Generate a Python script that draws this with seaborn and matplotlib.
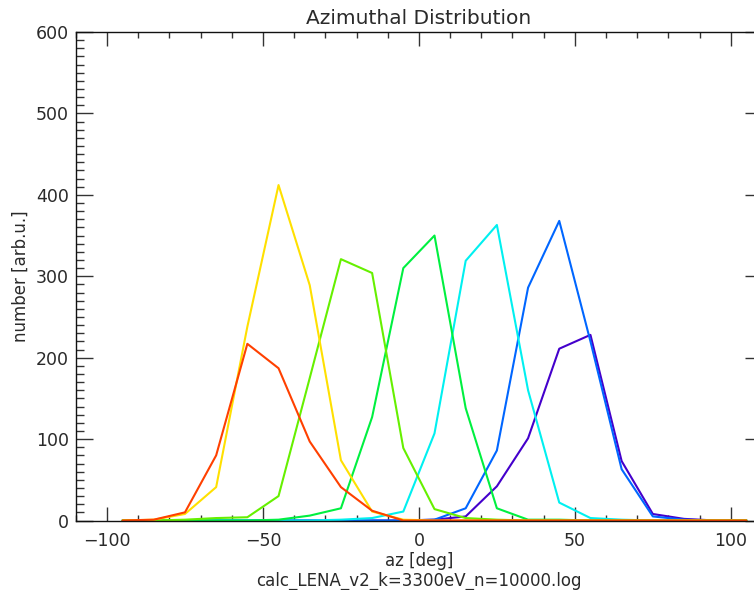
import matplotlib
matplotlib.use("Agg")
import matplotlib.pyplot as plt
from matplotlib.ticker import MultipleLocator
import seaborn as sns
import pandas as pd

az = [-95, -85, -75, -65, -55, -45, -35, -25, -15, -5, 5,
      15, 25, 35, 45, 55, 65, 75, 85, 95, 105]

indigo = [0, 0, 0, 0, 0, 0, 0, 0, 0, 0, 1, 5, 42, 101, 211, 228, 73, 8, 2, 0, 0]
blue = [0, 0, 0, 0, 0, 0, 0, 0, 0, 0, 1, 15, 86, 286, 368, 220, 63, 5, 1, 0, 0]
cyan = [0, 0, 0, 0, 0, 0, 0, 1, 3, 11, 107, 319, 363, 160, 22, 3, 1, 0, 0, 0, 0]
green = [0, 0, 0, 0, 0, 1, 6, 15, 127, 310, 350, 138, 15, 1, 1, 0, 0, 0, 0, 0, 0]
chartreuse = [0, 0, 1, 3, 4, 30, 175, 321, 304, 89, 14, 3, 1, 0, 0, 0, 0, 0, 0, 0, 0]
yellow = [0, 1, 8, 41, 238, 412, 289, 74, 11, 1, 0, 0, 0, 0, 0, 0, 0, 0, 0, 0, 0]
red = [0, 1, 10, 80, 217, 187, 97, 41, 12, 0, 0, 0, 0, 0, 0, 0, 0, 0, 0, 0, 0]

series_names = ["indigo", "blue", "cyan", "green", "chartreuse", "yellow", "red"]
series_values = [indigo, blue, cyan, green, chartreuse, yellow, red]
palette = {
    "indigo": "#4400cc",
    "blue": "#0066ff",
    "cyan": "#00f0f0",
    "green": "#00f040",
    "chartreuse": "#66f000",
    "yellow": "#ffe000",
    "red": "#ff4000",
}

title = "Azimuthal Distribution"
xlabel = "az [deg]\ncalc_LENA_v2_k=3300eV_n=10000.log"
ylabel = "number [arb.u.]"

rows = []
for name, vals in zip(series_names, series_values):
    for x, v in zip(az, vals):
        rows.append({"az": x, "number": v, "series": name})
df = pd.DataFrame(rows)

sns.set_style("white")
plt.rcParams["font.family"] = ["DejaVu Sans"]
txt = "#2a2a2a"

fig = plt.figure(figsize=(7.54, 5.90), dpi=100)
W, H = 754, 590
x0, x1, y0, y1 = 75.8, 762.0, 520.5, 32.0
ax = fig.add_axes([x0 / W, (H - y0) / H, (x1 - x0) / W, (y0 - y1) / H])

sns.lineplot(data=df, x="az", y="number", hue="series", hue_order=series_names,
             palette=palette, sort=False, linewidth=1.5, legend=False, ax=ax,
             estimator=None)

ax.set_xlim(-110, 110)
ax.set_ylim(0, 600)
ax.xaxis.set_major_locator(MultipleLocator(50))
ax.xaxis.set_minor_locator(MultipleLocator(10))
ax.yaxis.set_major_locator(MultipleLocator(100))
ax.yaxis.set_minor_locator(MultipleLocator(10))

ax.tick_params(axis="both", which="both", direction="in",
               bottom=True, left=True, top=True, right=True,
               colors="#333333", labelcolor=txt, labelsize=12.5)
ax.tick_params(axis="x", which="major", length=10, width=1.0, pad=8)
ax.tick_params(axis="x", which="minor", length=4, width=1.0)
ax.tick_params(axis="y", which="major", length=12, width=1.0, pad=5)
ax.tick_params(axis="y", which="minor", length=6, width=1.0)

for s in ax.spines.values():
    s.set_visible(True)
    s.set_color("#111111")
    s.set_linewidth(1.0)

ax.set_title(title, fontsize=14.5, color=txt, pad=6)
ax.set_xlabel(xlabel, fontsize=12, color=txt, labelpad=2, linespacing=1.1)
ax.set_ylabel(ylabel, fontsize=12, color=txt, labelpad=4)

fig.savefig("out.png", dpi=100)
